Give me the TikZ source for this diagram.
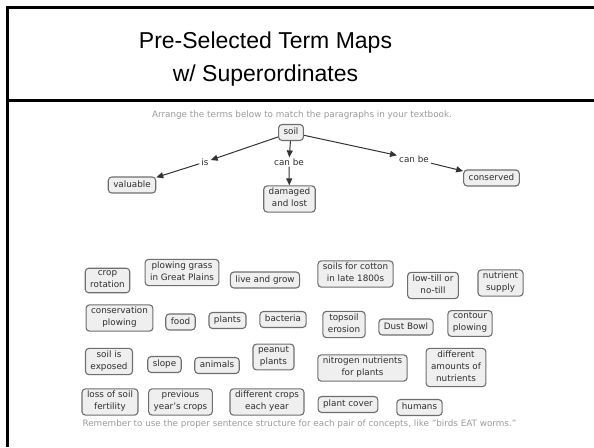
\documentclass[tikz,border=0pt]{standalone}
\usepackage{fontspec}
\setmainfont{DejaVu Sans}
\newfontfamily\titlefont{Liberation Sans}
\usetikzlibrary{arrows.meta}
\definecolor{boxline}{HTML}{6E6E6E}
\definecolor{boxfill}{HTML}{EFEFEF}
\definecolor{boxtext}{HTML}{2E2E2E}
\definecolor{notetext}{HTML}{9A9A9A}
\begin{document}
\begin{tikzpicture}[x=1pt,y=-1pt,
  concept/.style={draw=boxline, line width=1.1pt, fill=boxfill,
    rounded corners=3.5pt, align=center, text=boxtext,
    font=\fontsize{8.8}{12}\selectfont, inner xsep=5pt, inner ysep=2pt,
    execute at begin node=\strut, execute at end node=\strut},
  linkword/.style={font=\fontsize{8.8}{12}\selectfont, text=boxtext,
    inner xsep=2pt, inner ysep=1pt},
  rel/.style={draw=black!80, line width=1pt,
    -{Triangle[length=7pt,width=6pt]}},
  note/.style={font=\fontsize{8.8}{10}\selectfont, text=notetext, inner sep=0pt},
  frame/.style={draw=black, line width=2.6pt}]
\useasboundingbox (0,0) rectangle (594,447);

% slide frame and title band
\draw[frame] (7.5,447) -- (7.5,7.5) -- (594,7.5);
\draw[frame, line width=3pt] (7.5,100) -- (594,100);
\node[font=\titlefont\fontsize{23}{33}\selectfont, align=center, inner sep=0pt,
  anchor=base] (title) at (265.5,81.5)
  {Pre-Selected Term Maps\\w/ Superordinates};

% instructions
\node[note] (top) at (302,115)
  {Arrange the terms below to match the paragraphs in your textbook.};
\node[note] (bottom) at (299.5,424)
  {Remember to use the proper sentence structure for each pair of concepts, like "birds EAT worms."};

% concept map
\node[concept] (soil) at (291,132.5) {soil};
\node[concept] (valuable) at (132,185) {valuable};
\node[concept] (damaged) at (289.5,199) {damaged\\and lost};
\node[concept] (conserved) at (491.5,178) {conserved};

\node[linkword] (is) at (205,162) {is};
\node[linkword] (canbeA) at (289,162) {can be};
\node[linkword] (canbeB) at (414,159) {can be};

\draw[rel] (soil) -- (is);
\draw[rel] (is) -- (valuable);
\draw[rel] (soil) -- (canbeA);
\draw[rel] (canbeA) -- (damaged);
\draw[rel] (soil) -- (canbeB);
\draw[rel] (canbeB) -- (conserved);

% terms to arrange
\node[concept] (t1) at (107.5,280.5) {crop\\rotation};
\node[concept] (t2) at (182,272.5) {plowing grass\\in Great Plains};
\node[concept] (t3) at (265,280) {live and grow};
\node[concept] (t4) at (355.5,274) {soils for cotton\\in late 1800s};
\node[concept] (t5) at (433,285.5) {low-till or\\no-till};
\node[concept] (t6) at (500.5,283) {nutrient\\supply};

\node[concept] (t7) at (119.5,318) {conservation\\plowing};
\node[concept] (t8) at (180.5,322) {food};
\node[concept] (t9) at (227.5,320.5) {plants};
\node[concept] (t10) at (283,319.5) {bacteria};
\node[concept] (t11) at (344,324.5) {topsoil\\erosion};
\node[concept] (t12) at (406,327) {Dust Bowl};
\node[concept] (t13) at (470,323.5) {contour\\plowing};

\node[concept] (t14) at (109,361.5) {soil is\\exposed};
\node[concept] (t15) at (164.5,364.5) {slope};
\node[concept] (t16) at (217,365.5) {animals};
\node[concept] (t17) at (273.5,357) {peanut\\plants};
\node[concept] (t18) at (362.5,368) {nitrogen nutrients\\for plants};
\node[concept] (t19) at (456,367.5) {different\\amounts of\\nutrients};

\node[concept] (t20) at (110,402) {loss of soil\\fertility};
\node[concept] (t21) at (180.5,402) {previous\\year's crops};
\node[concept] (t22) at (267,402) {different crops\\each year};
\node[concept] (t23) at (348,404.5) {plant cover};
\node[concept] (t24) at (419.5,407.5) {humans};
\end{tikzpicture}
\end{document}
